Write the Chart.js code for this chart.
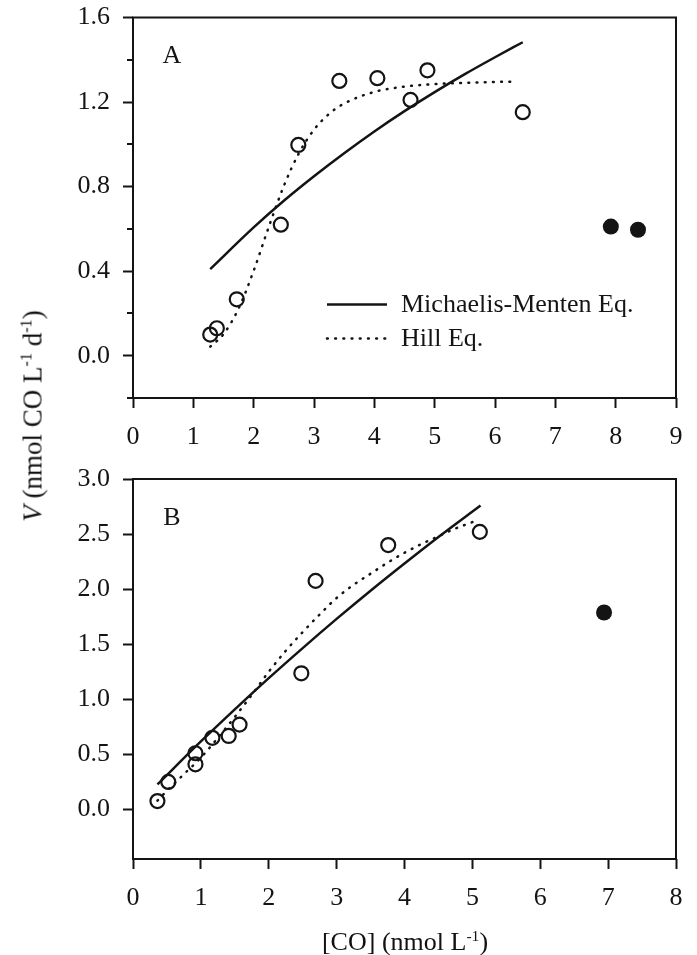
<!DOCTYPE html>
<html>
<head>
<meta charset="utf-8">
<title>CO oxidation kinetics</title>
<script src="https://cdn.jsdelivr.net/npm/chart.js@4.4.1/dist/chart.umd.min.js"></script>
<style>
    body { margin: 0; background: #fff; }
    #page { position: relative; width: 697px; height: 955px; font-family: 'Liberation Serif', 'Times New Roman', serif; color: #111; }
    .panel { position: absolute; left: 0; width: 697px; }
    #panelA { top: 0; height: 450px; }
    #panelB { top: 450px; height: 505px; }
    #ytitle { position: absolute; left: 33px; top: 416px; transform: translate(-50%, -50%) rotate(-90deg); white-space: nowrap; font-size: 27px; }
    #xtitle { position: absolute; left: 405px; top: 942px; transform: translate(-50%, -50%); white-space: nowrap; font-size: 26px; }
    sup { font-size: 0.6em; vertical-align: 0.6em; line-height: 0; }
</style>
</head>
<body>
<div id="page">
    <div class="panel" id="panelA"><canvas id="chartA"></canvas></div>
    <div class="panel" id="panelB"><canvas id="chartB"></canvas></div>
    <div id="ytitle"><i>V</i> (nmol CO L<sup>-1</sup> d<sup>-1</sup>)</div>
    <div id="xtitle">[CO] (nmol L<sup>-1</sup>)</div>
</div>
<script>
// Panel A - measured rates
const coA = [1.28, 1.39, 1.72, 2.45, 2.74, 3.42, 4.05, 4.60, 4.88, 6.46];
const rateA = [0.10, 0.13, 0.267, 0.62, 0.997, 1.30, 1.313, 1.21, 1.35, 1.152];
// points left out of the fits
const coAOut = [7.92, 8.37];
const rateAOut = [0.611, 0.596];
// fitted curves
const mmCoA = [1.28, 2, 2.5, 3, 3.5, 4, 4.5, 5, 5.5, 6, 6.46];
const mmRateA = [0.41, 0.607, 0.733, 0.849, 0.958, 1.061, 1.157, 1.247, 1.332, 1.412, 1.483];
const hillCoA = [1.28, 1.5, 1.75, 2.0, 2.25, 2.5, 2.75, 3.0, 3.25, 3.5, 4.0, 4.5, 5.0, 5.5, 6.0, 6.35];
const hillRateA = [0.043, 0.102, 0.223, 0.402, 0.609, 0.803, 0.958, 1.069, 1.144, 1.193, 1.248, 1.273, 1.285, 1.291, 1.295, 1.297];

// Panel B
const coB = [0.36, 0.52, 0.92, 0.92, 1.17, 1.41, 1.57, 2.48, 2.69, 3.76, 5.11];
const rateB = [0.076, 0.25, 0.41, 0.51, 0.65, 0.667, 0.77, 1.236, 2.075, 2.40, 2.52];
const coBOut = [6.94];
const rateBOut = [1.788];
const mmCoB = [0.36, 1, 1.5, 2, 2.5, 3, 3.5, 4, 4.5, 5.12];
const mmRateB = [0.227, 0.617, 0.909, 1.192, 1.465, 1.730, 1.986, 2.233, 2.474, 2.76];
const hillCoB = [0.36, 0.5, 0.75, 1, 1.25, 1.5, 1.75, 2, 2.25, 2.5, 2.75, 3, 3.25, 3.5, 3.75, 4, 4.25, 4.5, 4.75, 5.05];
const hillRateB = [0.08, 0.17, 0.32, 0.47, 0.65, 0.84, 1.04, 1.25, 1.44, 1.61, 1.77, 1.92, 2.04, 2.14, 2.24, 2.33, 2.41, 2.48, 2.55, 2.62];

// Axis ticks
const xTicksA = [0, 1, 2, 3, 4, 5, 6, 7, 8, 9];
const yTicksA = [0, 0.4, 0.8, 1.2, 1.6];
const yMinorA = [-0.2, 0.2, 0.6, 1.0, 1.4];
const xTicksB = [0, 1, 2, 3, 4, 5, 6, 7, 8];
const yTicksB = [0, 0.5, 1.0, 1.5, 2.0, 2.5, 3.0];

const legendLabels = ['Michaelis-Menten Eq.', 'Hill Eq.'];

const ink = '#141414';
const pts = (xs, ys) => xs.map((x, i) => ({ x: x, y: ys[i] }));

Chart.defaults.font.family = "'Liberation Serif', 'Times New Roman', serif";
Chart.defaults.color = ink;

// frame, minor ticks, panel letter and the in-plot legend
const panelDecor = {
    id: 'panelDecor',
    afterDraw(chart, args, opts) {
        const { ctx, chartArea: a, scales } = chart;
        ctx.save();
        ctx.strokeStyle = ink;
        ctx.lineWidth = 2;
        ctx.strokeRect(a.left, a.top, a.right - a.left, a.bottom - a.top);

        (opts.minorTicks || []).forEach(v => {
            const y = Math.round(scales.y.getPixelForValue(v));
            ctx.beginPath();
            ctx.moveTo(a.left - 6, y);
            ctx.lineTo(a.left, y);
            ctx.stroke();
        });

        ctx.fillStyle = ink;
        ctx.font = "26px 'Liberation Serif', serif";
        ctx.textAlign = 'center';
        ctx.textBaseline = 'middle';
        ctx.fillText(opts.letter, a.left + 39, a.top + 39);

        if (opts.legend) {
            ctx.textAlign = 'left';
            opts.legend.forEach((item, i) => {
                const ds = chart.data.datasets[item.dataset];
                const y = a.top + 287 + i * 34;
                ctx.beginPath();
                ctx.lineWidth = ds.borderWidth;
                ctx.lineCap = ds.borderCapStyle || 'butt';
                ctx.setLineDash(ds.borderDash || []);
                ctx.moveTo(a.left + 194, y);
                ctx.lineTo(a.left + 254, y);
                ctx.stroke();
                ctx.setLineDash([]);
                ctx.fillText(item.text, a.left + 268, y + 1);
            });
        }
        ctx.restore();
    }
};

function makePanel(canvasId, cfg) {
    const datasets = [
        {
            label: legendLabels[0],
            type: 'line',
            data: pts(cfg.mmX, cfg.mmY),
            borderColor: ink,
            borderWidth: 2.5,
            pointRadius: 0,
            cubicInterpolationMode: 'monotone',
            fill: false,
            order: 3
        },
        {
            label: legendLabels[1],
            type: 'line',
            data: pts(cfg.hillX, cfg.hillY),
            borderColor: ink,
            borderWidth: 2.5,
            borderDash: [0.8, 7.4],
            borderCapStyle: 'round',
            pointRadius: 0,
            cubicInterpolationMode: 'monotone',
            fill: false,
            order: 3
        },
        {
            label: 'measured',
            data: pts(cfg.x, cfg.y),
            pointRadius: 7,
            borderWidth: 2.2,
            borderColor: ink,
            backgroundColor: 'rgba(0,0,0,0)',
            order: 1
        },
        {
            label: 'excluded',
            data: pts(cfg.outX, cfg.outY),
            pointRadius: 8,
            borderWidth: 0,
            backgroundColor: ink,
            order: 1
        }
    ];

    const ctx = document.getElementById(canvasId).getContext('2d');
    return new Chart(ctx, {
        type: 'scatter',
        data: { datasets: datasets },
        plugins: [panelDecor],
        options: {
            responsive: true,
            maintainAspectRatio: false,
            animation: false,
            layout: { padding: { top: cfg.padTop, right: 21, left: 0, bottom: 0 } },
            plugins: {
                legend: { display: false },
                tooltip: { enabled: false },
                panelDecor: { letter: cfg.letter, minorTicks: cfg.minor, legend: cfg.legend }
            },
            scales: {
                x: {
                    type: 'linear',
                    min: cfg.xMin,
                    max: cfg.xMax,
                    afterBuildTicks: axis => { axis.ticks = cfg.xTicks.map(v => ({ value: v })); },
                    afterFit: scale => {
                        scale.height = cfg.xHeight;
                        scale.paddingLeft = 0;
                        scale.paddingRight = 0;
                    },
                    grid: { drawOnChartArea: false, tickLength: 10, tickWidth: 2, tickColor: ink },
                    border: { display: false },
                    ticks: { font: { size: 26 }, padding: 14, maxRotation: 0, callback: v => String(v) }
                },
                y: {
                    type: 'linear',
                    min: cfg.yMin,
                    max: cfg.yMax,
                    afterBuildTicks: axis => { axis.ticks = cfg.yTicks.map(v => ({ value: v })); },
                    afterFit: scale => {
                        scale.width = 133;
                        scale.paddingTop = 0;
                        scale.paddingBottom = 0;
                    },
                    grid: { drawOnChartArea: false, tickLength: 10, tickWidth: 2, tickColor: ink },
                    border: { display: false },
                    ticks: { font: { size: 26 }, padding: 13, callback: v => v.toFixed(1) }
                }
            }
        }
    });
}

makePanel('chartA', {
    letter: 'A',
    x: coA, y: rateA, outX: coAOut, outY: rateAOut,
    mmX: mmCoA, mmY: mmRateA, hillX: hillCoA, hillY: hillRateA,
    xMin: 0, xMax: 9, yMin: -0.2, yMax: 1.6,
    xTicks: xTicksA, yTicks: yTicksA, minor: yMinorA,
    padTop: 17.5, xHeight: 52,
    legend: [{ dataset: 0, text: legendLabels[0] }, { dataset: 1, text: legendLabels[1] }]
});

makePanel('chartB', {
    letter: 'B',
    x: coB, y: rateB, outX: coBOut, outY: rateBOut,
    mmX: mmCoB, mmY: mmRateB, hillX: hillCoB, hillY: hillRateB,
    xMin: 0, xMax: 8, yMin: -0.45, yMax: 3.0,
    xTicks: xTicksB, yTicks: yTicksB, minor: [],
    padTop: 29, xHeight: 96,
    legend: null
});
</script>
</body>
</html>
